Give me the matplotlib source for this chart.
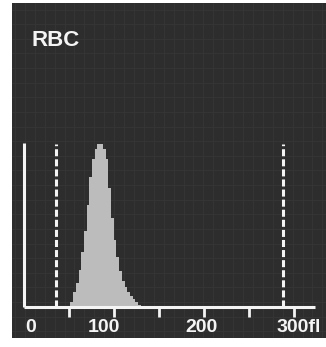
import matplotlib
matplotlib.use("Agg")
import matplotlib.pyplot as plt
import numpy as np

# RBC volume histogram (fL vs relative count)
volume_fl = [50, 53, 56, 59, 62, 65, 68, 71, 74, 77, 80, 83, 86, 89,
             92, 95, 98, 101, 104, 107, 110, 113, 116, 119, 122, 125, 128, 131]
counts = [0, 3, 9, 15, 23, 34, 47, 63, 80, 91, 97, 100, 100, 97,
          91, 73, 55, 41, 31, 22, 16, 12, 9.5, 7, 5, 3, 1.5, 0]

discriminators = [36, 287]
tick_pos = [50, 100, 150, 200, 250, 300]
label_text = ["0", "100", "200", "300fl"]
label_pos = [7, 89, 197, 280]

bg = "#2d2d2d"
fg = "#f4f4f4"

fig = plt.figure(figsize=(3.26, 3.47), dpi=100, facecolor="white")
ax = fig.add_axes([12 / 326, 9 / 347, 314 / 326, 335 / 347])
ax.set_facecolor(bg)
ax.set_xlim(-13.3, 335)
ax.set_ylim(-19.1, 187)

# faint screen grid
ax.set_xticks(np.arange(-10, 335, 11))
ax.set_yticks(np.arange(-15, 187, 9))
ax.grid(True, color="#363636", lw=0.6)
ax.tick_params(length=0, labelbottom=False, labelleft=False)
for s in ax.spines.values():
    s.set_visible(False)

ax.fill_between(volume_fl, counts, step="mid", color="#bcbcbc", lw=0, zorder=3)

# axes drawn as in the analyser printout
ax.plot([0, 323], [0, 0], color=fg, lw=2.2, solid_capstyle="butt", zorder=4)
ax.plot([0, 0], [0, 101], color=fg, lw=2.2, solid_capstyle="butt", zorder=4)
ax.vlines(tick_pos, -6, 0, color=fg, lw=2.0, zorder=4)

for d in discriminators:
    ax.plot([d, d], [0, 100], color=fg, lw=2.2, ls=(0, (2.3, 1.0)), zorder=4)

for t, p in zip(label_text, label_pos):
    ax.text(p, -12.5, t, color=fg, fontsize=14, fontweight="bold",
            family=["Liberation Sans", "DejaVu Sans"],
            ha="left" if t == "300fl" else "center", va="center", zorder=5)

ax.text(8, 164, "RBC", color=fg, fontsize=16, fontweight="bold",
        family=["Liberation Sans", "DejaVu Sans"], ha="left", va="center", zorder=5)

fig.savefig("out.png", dpi=100, facecolor="white")
